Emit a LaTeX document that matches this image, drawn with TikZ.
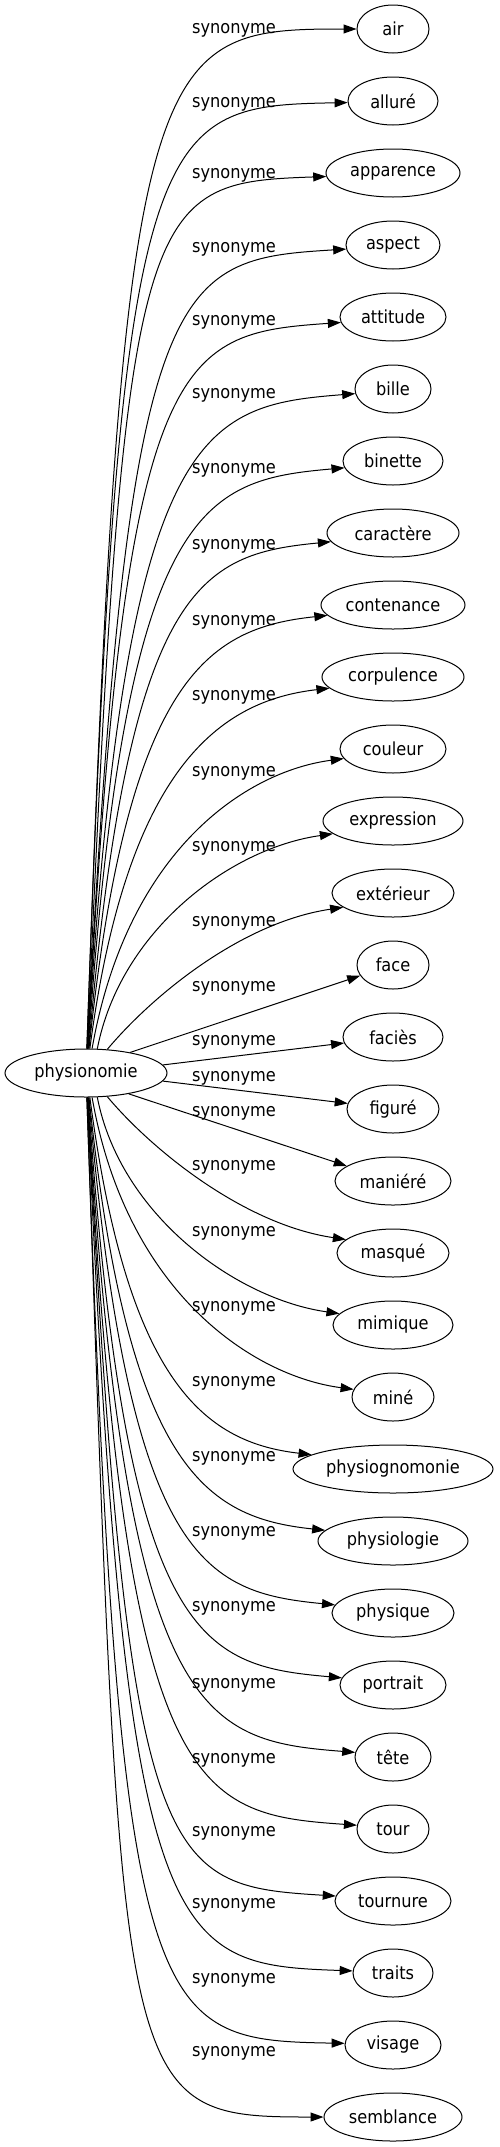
\documentclass[tikz,border=0pt]{standalone}
\usepackage{fontspec}
\setmainfont{DejaVu Sans Condensed}
\usetikzlibrary{arrows.meta,shapes.geometric}
\newcommand\fsz{\fontsize{18pt}{21pt}\selectfont}
\begin{document}
\begin{tikzpicture}[x=1pt,y=1pt,
  tnode/.style={draw, ellipse, line width=1pt, inner sep=0pt, minimum height=48pt, font=\fsz},
  lab/.style={anchor=west, inner sep=0pt, font=\fsz},
  syn/.style={line width=1pt, -{Triangle[length=13pt,width=9pt]}}]
\useasboundingbox (0,0) rectangle (499,-2147);
\node[tnode, minimum width=162pt] (n) at (86,-1073) {physionomie};
\foreach \i/\w/\d in {0/air/72, 1/alluré/90, 2/apparence/134, 3/aspect/94, 4/attitude/106, 5/bille/76, 6/binette/100, 7/caractère/132, 8/contenance/144, 9/corpulence/142, 10/couleur/106, 11/expression/140, 12/extérieur/122, 13/face/72, 14/faciès/100, 15/figuré/92, 16/maniéré/116, 17/masqué/112, 18/mimique/120, 19/miné/82, 20/physiognomonie/200, 21/physiologie/150, 22/physique/122, 23/portrait/106, 24/tête/76, 25/tour/72, 26/tournure/116, 27/traits/80, 28/visage/96, 29/semblance/138}
  \node[tnode, minimum width=\d pt] (t\i) at (393,-29-72*\i) {\w};
% curved edges
\foreach \jj/\ja/\jo/\ji/\jl/\jm/\je in {
  0/88/88/180/1009/207/180,
  1/88/88/181/934/196/182,
  2/87/87.5/182/857/185/183,
  3/87/87/183.5/779/175/185,
  4/86/87/184/702/164/186,
  5/86/86.5/184.5/625/154/187,
  6/85/86/185/547/143/188,
  7/84/85/185.5/466/132/188,
  8/83/84/186/372/121/189,
  9/81/82.5/186.5/284/110/190,
  10/76/80/187.5/200/100/191,
  11/65/79/188/120/104/192,
  12/48/50/188.4/70/103/196,
  29/272/272/180/1009/207/180,
  28/272/272/179/934/196/178,
  27/273/272.5/178/857/185/177,
  26/273/273/176.5/779/175/175,
  25/274/273/176/702/164/174,
  24/274/273.5/175.5/625/154/173,
  23/275/274/175/547/143/172,
  22/276/275/174.5/466/132/172,
  21/277/276/174/372/121/171,
  20/279/277.5/173.5/284/110/170,
  19/284/280/172.5/200/100/169,
  18/295/281/172/120/104/168,
  17/312/310/171.6/70/103/164}
  \draw[syn] (n.\ja) to[out=\jo, in=\ji, out distance=\jl pt, in distance=\jm pt] (t\jj.\je);
% nearly straight edges
\draw[syn] (n.25) -- (t13.198);
\draw[syn] (n.6) -- (t14.187);
\draw[syn] (n.354) -- (t15.173);
\draw[syn] (n.334) -- (t16.162);
% labels
\foreach \y [count=\c] in {30,104,175,249,322,395,470,546,622,697,773,848,923,988,1042,1078,1113,1167,1233,1308,1383,1458,1533,1608,1685,1760,1833,1905,1980,2053}
  \node[lab] (l\c) at (192,-\y) {synonyme};
\end{tikzpicture}
\end{document}
